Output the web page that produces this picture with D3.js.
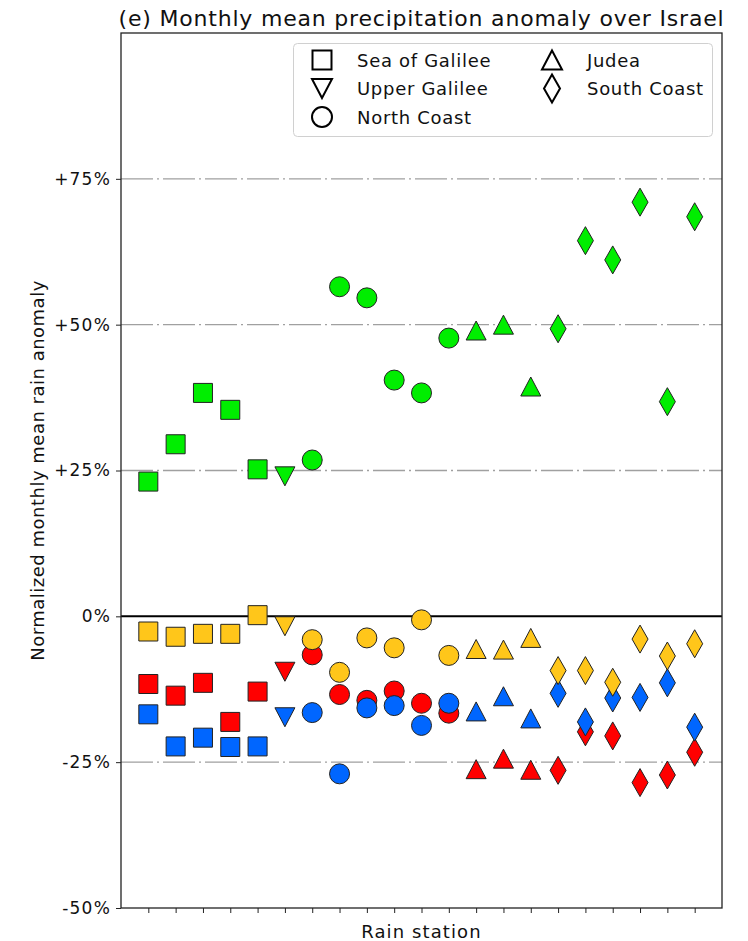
<html>

<head>
  <meta charset="utf8">
  <title>Monthly mean precipitation anomaly over Israel</title>
  <style>
  * {
    margin: 0;
    padding: 0;
  }
  body {
    background: #fff;
  }
  text {
    font-family: "DejaVu Sans", sans-serif;
  }
  </style>
</head>

<body>
  <script src="https://cdn.jsdelivr.net/npm/d3@7"></script>
  <script>
  //Data: one value per rain station (stations 1..21, left to right)
  var regions = ["Sea of Galilee", "Upper Galilee", "North Coast", "Judea", "South Coast"];
  var regionShapes = ["square", "down", "circle", "up", "diamond"];
  var stationRegion = [0, 0, 0, 0, 0, 1, 2, 2, 2, 2, 2, 2, 3, 3, 3, 4, 4, 4, 4, 4, 4];

  var greenVals = [23.1, 29.5, 38.3, 35.4, 25.2, 24.0, 26.8, 56.5, 54.6, 40.5, 38.3, 47.7, 49.0, 50.0, 39.4, 49.3, 64.4, 61.1, 71.0, 36.8, 68.5];
  var yellowVals = [-2.6, -3.5, -3.0, -3.0, 0.2, -1.7, -4.0, -9.6, -3.7, -5.4, -0.6, -6.7, -5.6, -5.7, -3.7, -9.3, -9.3, -11.3, -3.9, -6.8, -4.7];
  var redVals = [-11.6, -13.6, -11.4, -18.1, -12.9, -9.5, -6.6, -13.4, -14.4, -12.8, -14.9, -16.6, -26.2, -24.4, -26.3, -26.4, -19.8, -20.5, -28.5, -27.2, -23.3];
  var blueVals = [-16.8, -22.3, -20.8, -22.4, -22.3, -17.3, -16.5, -27.0, -15.7, -15.3, -18.7, -14.9, -16.3, -13.7, -17.5, -13.2, -18.1, -14.0, -13.9, -11.4, -19.0];

  var yTicks = [-50, -25, 0, 25, 50, 75];
  var yTickLabels = ["-50%", "-25%", "0%", "+25%", "+50%", "+75%"];
  var gridValues = [-25, 25, 50, 75];

  //Series in drawing order (later ones sit on top)
  var series = [
    { values: redVals, color: "#ff0000" },
    { values: blueVals, color: "#0066ff" },
    { values: yellowVals, color: "#ffc61a" },
    { values: greenVals, color: "#00ee00" }
  ];

  //Width, height and plot box
  var w = 748;
  var h = 941;
  var plotL = 121, plotR = 722, plotT = 33, plotB = 908;

  var xScale = d3.scaleLinear()
    .domain([0, stationRegion.length + 1])
    .range([plotL, plotR]);
  var yScale = d3.scaleLinear()
    .domain([-50, 100])
    .range([plotB, plotT]);

  //Marker path, centred on 0,0
  function marker(shape) {
    if (shape == "square") return "M-9.5,-9.5H9.5V9.5H-9.5Z";
    if (shape == "circle") return "M10,0A10,10 0 1,1 -10,0A10,10 0 1,1 10,0Z";
    if (shape == "up") return "M0,-9.5L10,9.5L-10,9.5Z";
    if (shape == "down") return "M0,9.5L10,-9.5L-10,-9.5Z";
    if (shape == "diamond") return "M0,-14L8,0L0,14L-8,0Z";
  }

  var svg = d3.select("body")
    .append("svg")
    .attr("width", w)
    .attr("height", h);

  //Grid lines (dash-dot)
  svg.selectAll("line.grid")
    .data(gridValues)
    .enter()
    .append("line")
    .attr("class", "grid")
    .attr("x1", plotL)
    .attr("x2", plotR)
    .attr("y1", function(d) { return yScale(d); })
    .attr("y2", function(d) { return yScale(d); })
    .attr("stroke", "#a0a0a0")
    .attr("stroke-width", 1.3)
    .attr("stroke-dasharray", "32,4,2,4");

  //Zero line
  svg.append("line")
    .attr("x1", plotL)
    .attr("x2", plotR)
    .attr("y1", yScale(0))
    .attr("y2", yScale(0))
    .attr("stroke", "#000")
    .attr("stroke-width", 2);

  //Markers
  series.forEach(function(s) {
    svg.append("g")
      .selectAll("path")
      .data(s.values)
      .enter()
      .append("path")
      .attr("d", function(d, i) { return marker(regionShapes[stationRegion[i]]); })
      .attr("transform", function(d, i) {
        return "translate(" + xScale(i + 1) + "," + yScale(d) + ")";
      })
      .attr("fill", s.color)
      .attr("stroke", "#222")
      .attr("stroke-width", 1);
  });

  //Axes
  var yAxis = d3.axisLeft(yScale)
    .tickValues(yTicks)
    .tickSize(5)
    .tickPadding(5)
    .tickFormat(function(d, i) { return yTickLabels[i]; });
  var xAxis = d3.axisBottom(xScale)
    .tickValues(d3.range(1, stationRegion.length + 1))
    .tickSize(5)
    .tickFormat("");

  var gy = svg.append("g")
    .attr("transform", "translate(" + plotL + ",0)")
    .call(yAxis);
  gy.select(".domain").remove();
  gy.selectAll("text")
    .attr("font-family", "DejaVu Sans")
    .attr("font-size", 17)
    .attr("letter-spacing", 1.2)
    .attr("fill", "#111");
  gy.selectAll("line").attr("stroke", "#222");

  var gx = svg.append("g")
    .attr("transform", "translate(0," + plotB + ")")
    .call(xAxis);
  gx.select(".domain").remove();
  gx.selectAll("line").attr("stroke", "#222");

  //Plot frame
  svg.append("rect")
    .attr("x", plotL)
    .attr("y", plotT)
    .attr("width", plotR - plotL)
    .attr("height", plotB - plotT)
    .attr("fill", "none")
    .attr("stroke", "#222")
    .attr("stroke-width", 1.3);

  //Title and axis labels
  svg.append("text")
    .attr("x", (plotL + plotR) / 2)
    .attr("y", 26)
    .attr("text-anchor", "middle")
    .attr("font-size", 22)
    .attr("letter-spacing", 0.8)
    .attr("fill", "#111")
    .text("(e) Monthly mean precipitation anomaly over Israel");

  svg.append("text")
    .attr("x", (plotL + plotR) / 2)
    .attr("y", 938)
    .attr("text-anchor", "middle")
    .attr("font-size", 18)
    .attr("letter-spacing", 1.1)
    .attr("fill", "#111")
    .text("Rain station");

  svg.append("text")
    .attr("transform", "translate(44," + (plotT + plotB) / 2 + ") rotate(-90)")
    .attr("text-anchor", "middle")
    .attr("font-size", 18)
    .attr("letter-spacing", 0.5)
    .attr("fill", "#111")
    .text("Normalized monthly mean rain anomaly");

  //Legend
  var legend = svg.append("g");
  legend.append("rect")
    .attr("x", 293.5)
    .attr("y", 43.5)
    .attr("width", 419)
    .attr("height", 93)
    .attr("rx", 4)
    .attr("fill", "#fff")
    .attr("stroke", "#d0d0d0");

  var legendItems = legend.selectAll("g.item")
    .data(regions)
    .enter()
    .append("g")
    .attr("class", "item")
    .attr("transform", function(d, i) {
      var col = i < 3 ? 0 : 1;
      var row = i < 3 ? i : i - 3;
      return "translate(" + (col ? 552 : 322) + "," + (60 + row * 28.5) + ")";
    });
  legendItems.append("path")
    .attr("d", function(d, i) { return marker(regionShapes[i]); })
    .attr("fill", "none")
    .attr("stroke", "#000")
    .attr("stroke-width", 2);
  legendItems.append("text")
    .attr("x", 35)
    .attr("y", 6.5)
    .attr("font-size", 18)
    .attr("letter-spacing", 0.7)
    .attr("fill", "#111")
    .text(function(d) { return d; });
  </script>
</body>

</html>
